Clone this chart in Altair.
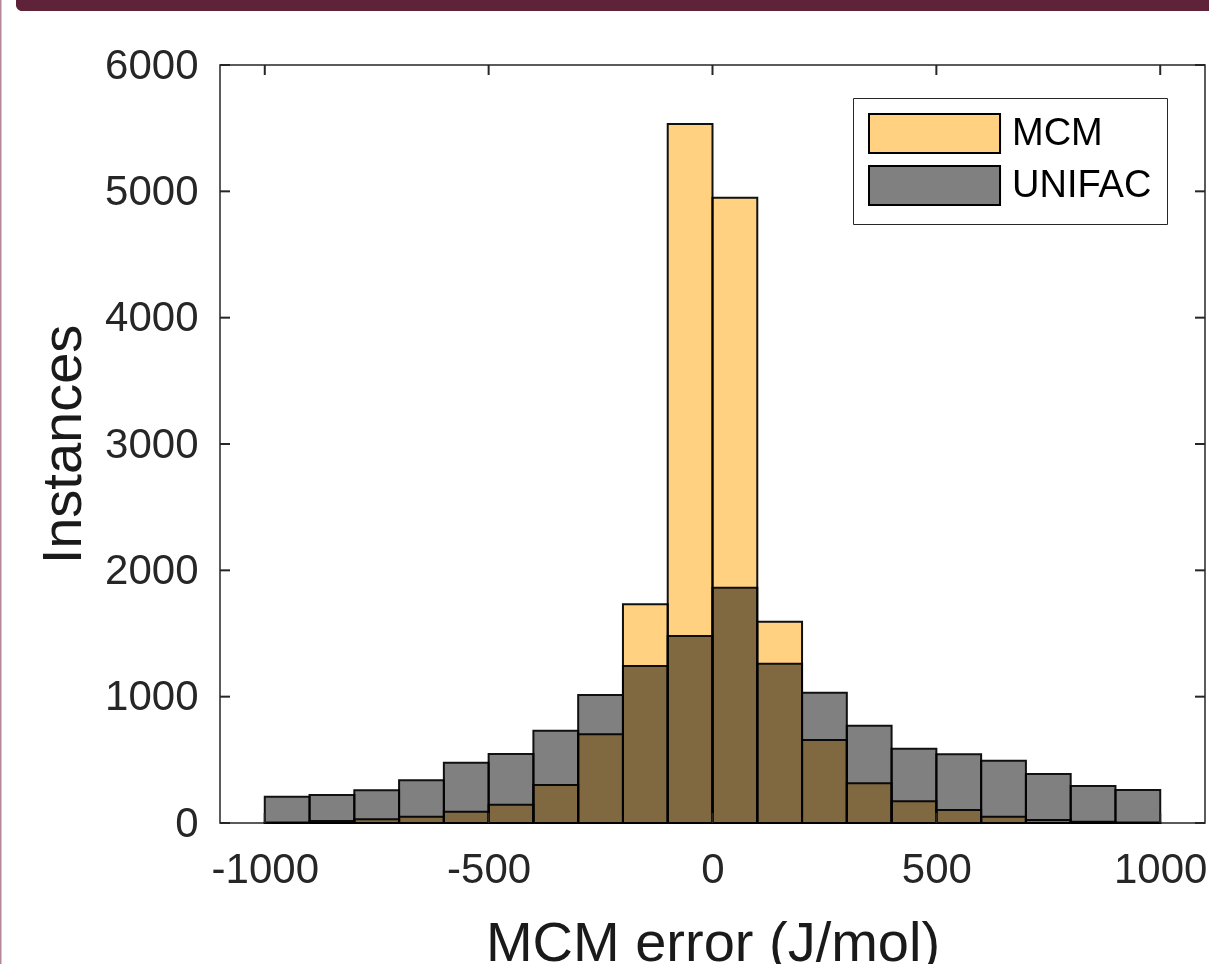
import altair as alt
import pandas as pd

# ---- data ----
bin_start = [-1000, -900, -800, -700, -600, -500, -400, -300, -200, -100,
             0, 100, 200, 300, 400, 500, 600, 700, 800, 900]
bin_width = 100
mcm_counts = [3, 15, 29, 50, 89, 145, 301, 702, 1731, 5533,
              4950, 1593, 657, 314, 172, 103, 50, 24, 10, 3]
unifac_counts = [208, 222, 259, 338, 477, 546, 731, 1013, 1243, 1480,
                 1863, 1261, 1031, 770, 588, 544, 493, 388, 293, 261]
series_names = ["MCM", "UNIFAC"]
series_colors = ["#FFD180", "#808080"]
x_ticks = [-1000, -500, 0, 500, 1000]
y_ticks = [0, 1000, 2000, 3000, 4000, 5000, 6000]

W, H = 985, 758
FONT = "Liberation Sans"
AX = "#262626"

rows = []
for name, counts in zip(series_names, [mcm_counts, unifac_counts]):
    for b, c in zip(bin_start, counts):
        rows.append({"start": b, "end": b + bin_width, "count": c, "series": name})
df = pd.DataFrame(rows)

xscale = alt.Scale(domain=[-1100, 1100], nice=False, zero=False)
yscale = alt.Scale(domain=[0, 6000], nice=False)

bars = alt.Chart(df).mark_bar(
    stroke="#111111", strokeWidth=2, blend="multiply", opacity=1
).encode(
    x=alt.X("start:Q", scale=xscale, axis=alt.Axis(
        values=x_ticks, labelExpr="'' + datum.value", ticks=False, domain=False,
        grid=False, labelFontSize=42, labelFont=FONT, labelColor=AX,
        labelPadding=59, labelBaseline="alphabetic", labelFlush=False,
        labelOverlap=False, title="MCM error (J/mol)", titleFont=FONT,
        titleFontSize=56, titleFontWeight="normal", titleColor="#1a1a1a",
        titleX=W / 2, titleY=137, titleBaseline="alphabetic", titleAlign="center")),
    x2="end:Q",
    y=alt.Y("count:Q", scale=yscale, axis=alt.Axis(
        values=y_ticks, labelExpr="'' + datum.value", ticks=False, domain=False,
        grid=False, labelFontSize=42, labelFont=FONT, labelColor=AX,
        labelPadding=22, labelBaseline="middle", labelFlush=False,
        labelOverlap=False, title="Instances", titleFont=FONT, titleFontSize=56,
        titleFontWeight="normal", titleColor="#1a1a1a", titleAngle=270,
        titleX=-140, titleY=H / 2, titleBaseline="alphabetic", titleAlign="center")),
    y2=alt.datum(0),
    color=alt.Color("series:N", scale=alt.Scale(domain=series_names, range=series_colors),
                    legend=alt.Legend(
                        orient="none", legendX=633, legendY=33, title=None,
                        symbolType="M-1,-1 L5.72,-1 L5.72,1 L-1,1 Z",
                        symbolSize=1521, symbolStrokeColor="#000000",
                        symbolStrokeWidth=2, symbolOpacity=1,
                        labelFont=FONT, labelFontSize=38, labelColor="#000000",
                        labelOffset=103, rowPadding=5, padding=15,
                        strokeColor=AX, fillColor="white")),
    order=alt.Order("series:N"),
)

xt = pd.DataFrame({"v": x_ticks})
yt = pd.DataFrame({"v": y_ticks})
tick_style = dict(color=AX, strokeWidth=2)

bottom_ticks = alt.Chart(xt).mark_rule(**tick_style).encode(
    x=alt.X("v:Q", scale=xscale), y=alt.value(H), y2=alt.value(H - 10))
top_ticks = alt.Chart(xt).mark_rule(**tick_style).encode(
    x=alt.X("v:Q", scale=xscale), y=alt.value(0), y2=alt.value(10))
left_ticks = alt.Chart(yt).mark_rule(**tick_style).encode(
    y=alt.Y("v:Q", scale=yscale), x=alt.value(0), x2=alt.value(10))
right_ticks = alt.Chart(yt).mark_rule(**tick_style).encode(
    y=alt.Y("v:Q", scale=yscale), x=alt.value(W), x2=alt.value(W - 10))

# slide decoration: header band and thin left border
one = pd.DataFrame({"k": [0]})
band = alt.Chart(one).mark_rect(color="#5E2239", cornerRadiusBottomLeft=12).encode(
    x=alt.value(-204), x2=alt.value(W + 10), y=alt.value(-66), y2=alt.value(-54))
edge = alt.Chart(one).mark_rect(color="#B5879A").encode(
    x=alt.value(-220), x2=alt.value(-218.5), y=alt.value(-66), y2=alt.value(H + 142))

chart = alt.layer(
    bars, bottom_ticks, top_ticks, left_ticks, right_ticks, band, edge
).resolve_scale(x="shared", y="shared").properties(
    width=W, height=H,
    autosize=alt.AutoSizeParams(type="none"),
    padding={"left": 220, "top": 65, "right": 4, "bottom": 141},
    background="white",
).configure_view(stroke=AX, strokeWidth=1.5)

chart.save("out.html", embed_options={"renderer": "svg", "actions": False})
